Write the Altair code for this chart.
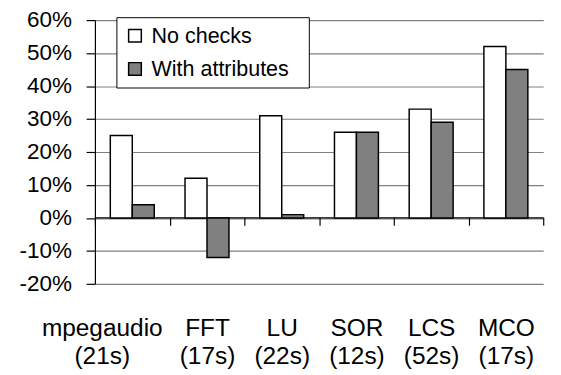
import altair as alt
import pandas as pd

categories = ["mpegaudio\n(21s)", "FFT\n(17s)", "LU\n(22s)", "SOR\n(12s)", "LCS\n(52s)", "MCO\n(17s)"]
series = ["No checks", "With attributes"]
no_checks = [25, 12, 31, 26, 33, 52]
with_attributes = [4, -12, 1, 26, 29, 45]
y_ticks = [-20, -10, 0, 10, 20, 30, 40, 50, 60]

rows = []
for c, a, b in zip(categories, no_checks, with_attributes):
    rows.append({"cat": c, "series": series[0], "val": a})
    rows.append({"cat": c, "series": series[1], "val": b})
df = pd.DataFrame(rows)

FONT = "Liberation Sans"
# the first (long) label sits left of its band in the original: pad it on the right
# (a zero-width space at the end keeps the padding from being trimmed)
PAD = "\u00a0" * 9 + "\u200b"

x_label_expr = (
    "indexof(datum.label, 'mpegaudio') == 0 ? "
    "[split(datum.label, '\\n')[0] + '" + PAD + "', split(datum.label, '\\n')[1] + '" + PAD + "'] : "
    "split(datum.label, '\\n')"
)

yscale = alt.Scale(domain=[-20, 60], nice=False, zero=False)

bars = alt.Chart(df).mark_bar(stroke="black", strokeWidth=1.5).encode(
    x=alt.X(
        "cat:N",
        sort=categories,
        scale=alt.Scale(paddingInner=0, paddingOuter=0),
        axis=alt.Axis(
            title=None,
            offset=-68,
            domainColor="black",
            domainWidth=1.2,
            tickColor="black",
            tickSize=8,
            tickWidth=1.2,
            tickBand="extent",
            labelAngle=0,
            labelFont=FONT,
            labelFontSize=25,
            labelColor="black",
            labelLineHeight=28.5,
            labelPadding=93,
            labelLimit=400,
            labelExpr=x_label_expr,
        ),
    ),
    xOffset=alt.XOffset("series:N", sort=series, scale=alt.Scale(paddingInner=0, paddingOuter=0.7)),
    y=alt.Y(
        "val:Q",
        scale=yscale,
        axis=alt.Axis(
            title=None,
            values=y_ticks,
            grid=True,
            gridColor="#808080",
            gridWidth=1.2,
            domainColor="black",
            domainWidth=1.2,
            tickColor="black",
            tickSize=9,
            tickWidth=1.2,
            labelFont=FONT,
            labelFontSize=23,
            labelColor="black",
            labelPadding=15,
            labelExpr="datum.value + '%'",
        ),
    ),
    color=alt.Color(
        "series:N",
        sort=series,
        scale=alt.Scale(domain=series, range=["white", "#808080"]),
        legend=alt.Legend(
            title=None,
            orient="none",
            legendX=22,
            legendY=-3,
            strokeColor="black",
            fillColor="white",
            padding=8,
            symbolType="square",
            symbolSize=169,
            symbolStrokeColor="black",
            symbolStrokeWidth=1.5,
            labelFont=FONT,
            labelFontSize=22,
            labelColor="black",
            labelOffset=6,
            labelLimit=400,
            rowPadding=12,
            labelExpr="datum.label + '\u00a0\u00a0\u200b'",
        ),
    ),
)

chart = bars.properties(
    width=459,
    height=270,
    autosize=alt.AutoSizeParams(type="none"),
    padding={"left": 89, "top": 8, "right": 10, "bottom": 92},
).configure_view(stroke=None)

chart.save("out.html", embed_options={"renderer": "svg", "actions": False})
